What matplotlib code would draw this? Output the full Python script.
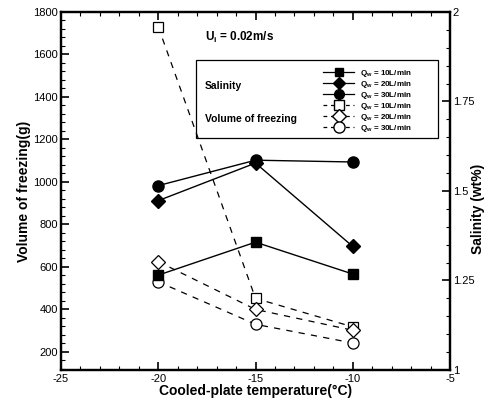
import matplotlib
matplotlib.use("Agg")
import matplotlib.pyplot as plt
from matplotlib.lines import Line2D
from matplotlib.patches import Rectangle
from matplotlib.ticker import MultipleLocator, FormatStrFormatter

plt.rcParams['font.family'] = ['Liberation Sans', 'DejaVu Sans']
plt.rcParams['axes.unicode_minus'] = False

# data
temp = [-20, -15, -10]
flows = ["10", "20", "30"]
sal_10 = [1.265, 1.357, 1.268]
sal_20 = [1.473, 1.578, 1.345]
sal_30 = [1.515, 1.586, 1.581]
vol_10 = [1730, 452, 318]
vol_20 = [625, 400, 302]
vol_30 = [530, 330, 242]

markers = ['s', 'D', 'o']
msizes = [7, 7, 8]

fig = plt.figure(figsize=(4.86, 4.09), dpi=100)
ax = fig.add_axes([0.1255, 0.0954, 0.8005, 0.8753])
ax2 = ax.twinx()

# volume of freezing (left axis), open markers, dashed
for v, m, ms in zip([vol_10, vol_20, vol_30], markers, msizes):
    ax.plot(temp, v, color='k', ls=(0, (5, 5)), lw=0.9, marker=m, ms=ms,
            mfc='white', mec='k', mew=0.9, zorder=3)

# salinity (right axis), filled markers, solid
for s, m, ms in zip([sal_10, sal_20, sal_30], markers, msizes):
    ax2.plot(temp, s, color='k', ls='-', lw=1.0, marker=m, ms=ms,
             mfc='k', mec='k', zorder=3)

ax.set_xlim(-25, -5)
ax.set_ylim(115, 1800)
ax2.set_ylim(1, 2)

ax.xaxis.set_major_locator(MultipleLocator(5))
ax.xaxis.set_minor_locator(MultipleLocator(1))
ax.yaxis.set_major_locator(MultipleLocator(200))
ax.yaxis.set_minor_locator(MultipleLocator(40))
ax2.yaxis.set_major_locator(MultipleLocator(0.25))
ax2.yaxis.set_minor_locator(MultipleLocator(0.05))
ax2.yaxis.set_major_formatter(FormatStrFormatter('%g'))

ax.tick_params(axis='x', which='both', direction='in', top=True, bottom=True,
               labelsize=8, pad=3)
ax.tick_params(axis='y', which='both', direction='in', left=True, right=False,
               labelsize=8, pad=2)
ax2.tick_params(axis='y', which='both', direction='in', labelsize=8, pad=2)
for a in (ax, ax2):
    a.tick_params(which='major', length=6, width=1.2)
    a.tick_params(which='minor', length=3, width=0.8)
    for sp in a.spines.values():
        sp.set_linewidth(1.6)

ax.set_xlabel('Cooled-plate temperature(°C)', fontsize=10, fontweight='bold', labelpad=0)
ax.set_ylabel('Volume of freezing(g)', fontsize=10, fontweight='bold', labelpad=2)
ax2.set_ylabel('Salinity (wt%)', fontsize=10, fontweight='bold')
ax2.yaxis.set_label_coords(1.054, 0.45)

ax.text(0.371, 0.928, r'U$_\mathregular{i}$ = 0.02m/s', transform=ax.transAxes,
        fontsize=8.5, fontweight='bold', va='center')

# legend
box = Rectangle((0.347, 0.647), 0.622, 0.218, transform=ax.transAxes,
                fill=False, lw=0.9, ec='k', zorder=5)
ax.add_patch(box)
ax.text(0.37, 0.792, 'Salinity', transform=ax.transAxes, fontsize=7.5,
        fontweight='bold', va='center')
ax.text(0.37, 0.700, 'Volume of freezing', transform=ax.transAxes, fontsize=7.5,
        fontweight='bold', va='center')

handles = []
labels = []
for m, ms, q in zip(markers, msizes, flows):
    handles.append(Line2D([], [], color='k', ls='-', lw=0.9, marker=m, ms=ms - 1,
                          mfc='k', mec='k'))
    labels.append(r'Q$_\mathregular{w}$ = ' + q + 'L/min')
for m, ms, q in zip(markers, msizes, flows):
    handles.append(Line2D([], [], color='k', ls=(0, (3, 3)), lw=0.9, marker=m, ms=ms,
                          mfc='white', mec='k'))
    labels.append(r'Q$_\mathregular{w}$ = ' + q + 'L/min')
leg = ax2.legend(handles, labels, loc='upper left', bbox_to_anchor=(0.674, 0.843),
                 frameon=False, fontsize=5.8, handlelength=3.8, handletextpad=0.8,
                 labelspacing=0.0, borderaxespad=0, borderpad=0)
for t in leg.get_texts():
    t.set_fontweight('bold')

plt.savefig('out.png', dpi=100)
